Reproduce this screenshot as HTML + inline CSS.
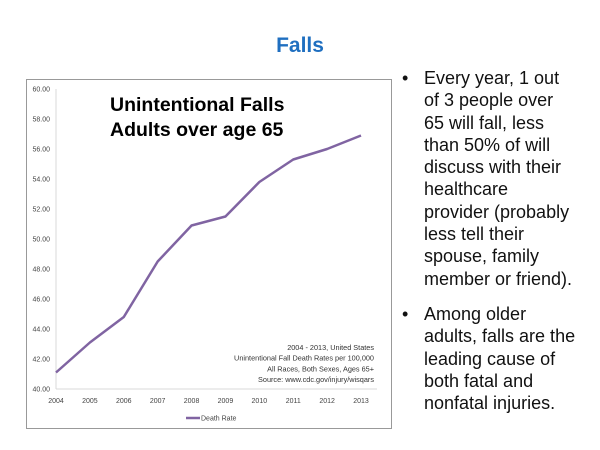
<!DOCTYPE html>
<html><head><meta charset="utf-8"><style>
body{margin:0;width:600px;height:450px;background:#fff;position:relative;overflow:hidden;font-family:"Liberation Sans",Arial,sans-serif}
#title{position:absolute;left:0;width:600px;top:34px;text-align:center;color:#1f6fc0;font-weight:bold;font-size:21px}
#frame{position:absolute;left:26px;top:79px;width:366px;height:350px;border:1px solid #999;box-sizing:border-box}
ul{position:absolute;left:398px;top:67px;margin:0;padding:0;list-style:none;font-size:18px;line-height:22.3px;color:#111}
li{position:relative;padding-left:26px;width:180px;white-space:nowrap}
li:before{content:"•";position:absolute;left:4px;top:0}
</style></head><body>
<div id="title">Falls</div>
<div id="frame"></div>
<svg id="chart" width="600" height="450" style="position:absolute;left:0;top:0"></svg>
<ul>
<li>Every year, 1 out<br>of 3 people over<br>65 will fall, less<br>than 50% of will<br>discuss with their<br>healthcare<br>provider (probably<br>less tell their<br>spouse, family<br>member or friend).</li>
<li style="margin-top:13px">Among older<br>adults, falls are the<br>leading cause of<br>both fatal and<br>nonfatal injuries.</li>
</ul>
<script>
const years=["2004","2005","2006","2007","2008","2009","2010","2011","2012","2013"];
const deathRate=[41.1,43.1,44.8,48.5,50.9,51.5,53.8,55.3,56.0,56.9];
const yTicks=[40,42,44,46,48,50,52,54,56,58,60];
const svg=document.getElementById('chart');
const NS='http://www.w3.org/2000/svg';
const x=i=>56+i*(361-56)/(years.length-1);
const y=v=>389-(v-40)*15;
function mk(t,a,txt){const e=document.createElementNS(NS,t);for(const k in a)e.setAttribute(k,a[k]);if(txt!==undefined)e.textContent=txt;svg.appendChild(e);return e;}
let e=mk('line',{x1:56,y1:y(60),x2:56,y2:389,stroke:'#d9d9d9','stroke-width':1});

e=mk('line',{x1:56,y1:389,x2:377,y2:389,stroke:'#d9d9d9','stroke-width':1});

yTicks.forEach(v=>{const t=mk('text',{x:50,y:y(v)+2.5,'text-anchor':'end','font-size':7,fill:'#444'},v.toFixed(2));
});
years.forEach((yr,i)=>{const t=mk('text',{x:x(i),y:403,'text-anchor':'middle','font-size':7,fill:'#444'},yr);
});
const pl=mk('polyline',{points:deathRate.map((v,i)=>x(i)+','+y(v)).join(' '),fill:'none',stroke:'#8064a2','stroke-width':2.5,'stroke-linejoin':'round'});

e=mk('text',{x:110,y:111,'font-size':19.5,'font-weight':'bold',fill:'#000'},'Unintentional Falls');

e=mk('text',{x:110,y:136,'font-size':19.5,'font-weight':'bold',fill:'#000'},'Adults over age 65');

["2004 - 2013, United States","Unintentional Fall Death Rates per 100,000","All Races, Both Sexes, Ages 65+","Source: www.cdc.gov/injury/wisqars"].forEach((s,i)=>{
const t=mk('text',{x:374,y:350+i*10.7,'text-anchor':'end','font-size':7.3,fill:'#333'},s);
});
e=mk('line',{x1:186,y1:418,x2:200,y2:418,stroke:'#8064a2','stroke-width':2.5});

e=mk('text',{x:201,y:420.5,'font-size':7,fill:'#444'},'Death Rate');

</script>
</body></html>
